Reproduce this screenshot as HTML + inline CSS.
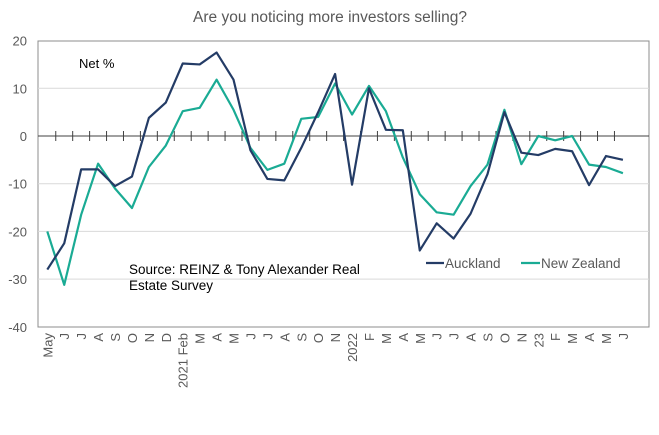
<!DOCTYPE html>
<html><head><meta charset="utf-8"><style>
body{margin:0;background:#fff;}
svg text{font-family:"Liberation Sans",Arial,sans-serif;}
</style></head><body>
<svg id="chart" width="659" height="430">
<text x="330" y="22" text-anchor="middle" font-size="15.5" fill="#595959">Are you noticing more investors selling?</text>
<rect x="38" y="41" width="611" height="286" fill="none" stroke="#8c8c8c" stroke-width="1"/>
<g id="grid"></g><g id="yticks"></g><g id="xaxis"></g><g id="series"></g>
<text x="79" y="68" font-size="13" fill="#000">Net %</text>
<text x="129" y="274" font-size="13.5" fill="#000">Source: REINZ &amp; Tony Alexander  Real</text>
<text x="129" y="290" font-size="13.5" fill="#000">Estate Survey</text>
<g><line x1="426" y1="263" x2="444" y2="263" stroke="#243c66" stroke-width="2.2"/><text x="445" y="268" font-size="13.5" fill="#595959">Auckland</text></g>
<g><line x1="521" y1="263" x2="540" y2="263" stroke="#1aab94" stroke-width="2.2"/><text x="541" y="268" font-size="13.5" fill="#595959">New Zealand</text></g>
</svg>
<script>
const categories=["May","J","J","A","S","O","N","D","2021 Feb","M","A","M","J","J","A","S","O","N","2022","F","M","A","M","J","J","A","S","O","N","23","F","M","A","M","J"];
const auckland=[-28,-22.5,-7,-7,-10.5,-8.5,3.8,7,15.2,15,17.5,11.8,-3,-9,-9.3,-2.5,5,13,-10.2,10,1.3,1.2,-24,-18.3,-21.5,-16.3,-8,5,-3.5,-4,-2.7,-3.2,-10.3,-4.2,-5];
const newZealand=[-20,-31.2,-16.5,-5.8,-11,-15.1,-6.5,-2,5.2,5.9,11.8,5.5,-2.5,-7.1,-5.8,3.6,4,11,4.5,10.5,5.2,-4.5,-12.2,-16,-16.5,-10.5,-6,5.5,-5.9,0,-0.9,0,-6,-6.5,-7.8];
const yTicks=[20,10,0,-10,-20,-30,-40];
const NS="http://www.w3.org/2000/svg";
function y(v){return 136-(v*4.77);}
function x(i){return 47.3+i*16.93;}
function mk(t,a,p){const e=document.createElementNS(NS,t);for(const k in a)e.setAttribute(k,a[k]);p.appendChild(e);return e;}
const grid=document.getElementById('grid'),yt=document.getElementById('yticks'),xa=document.getElementById('xaxis'),ser=document.getElementById('series');
yTicks.forEach(v=>{
 if(v!==0&&v!==20&&v!==-40){const g=mk('line',{x1:38,x2:649,y1:y(v),y2:y(v),stroke:'#d9d9d9','stroke-width':1},grid);
 
 }
 const t=mk('text',{x:27,y:y(v)+5,'text-anchor':'end','font-size':13,fill:'#595959'},yt);t.textContent=v;
 
 
});
const zl=mk('line',{x1:38,x2:649,y1:y(0),y2:y(0),stroke:'#404040','stroke-width':1},xa);


categories.forEach((c,i)=>{
 if(i<categories.length-1){const tk=mk('line',{x1:x(i)+8.46,x2:x(i)+8.46,y1:y(0)-5,y2:y(0)+5,stroke:'#404040','stroke-width':1},xa);
 
 }
 const t=mk('text',{x:0,y:0,'text-anchor':'end','font-size':13,fill:'#595959',transform:`translate(${x(i)+5},333) rotate(-90)`},xa);
 t.textContent=c;
 
 
});
function line(data,color,name){
 const p=mk('polyline',{points:data.map((v,i)=>x(i)+','+y(v)).join(' '),fill:'none',stroke:color,'stroke-width':2.2,'stroke-linejoin':'round'},ser);
 
 
}
line(newZealand,'#1aab94','new-zealand-line');
line(auckland,'#243c66','auckland-line');
</script>
</body></html>
